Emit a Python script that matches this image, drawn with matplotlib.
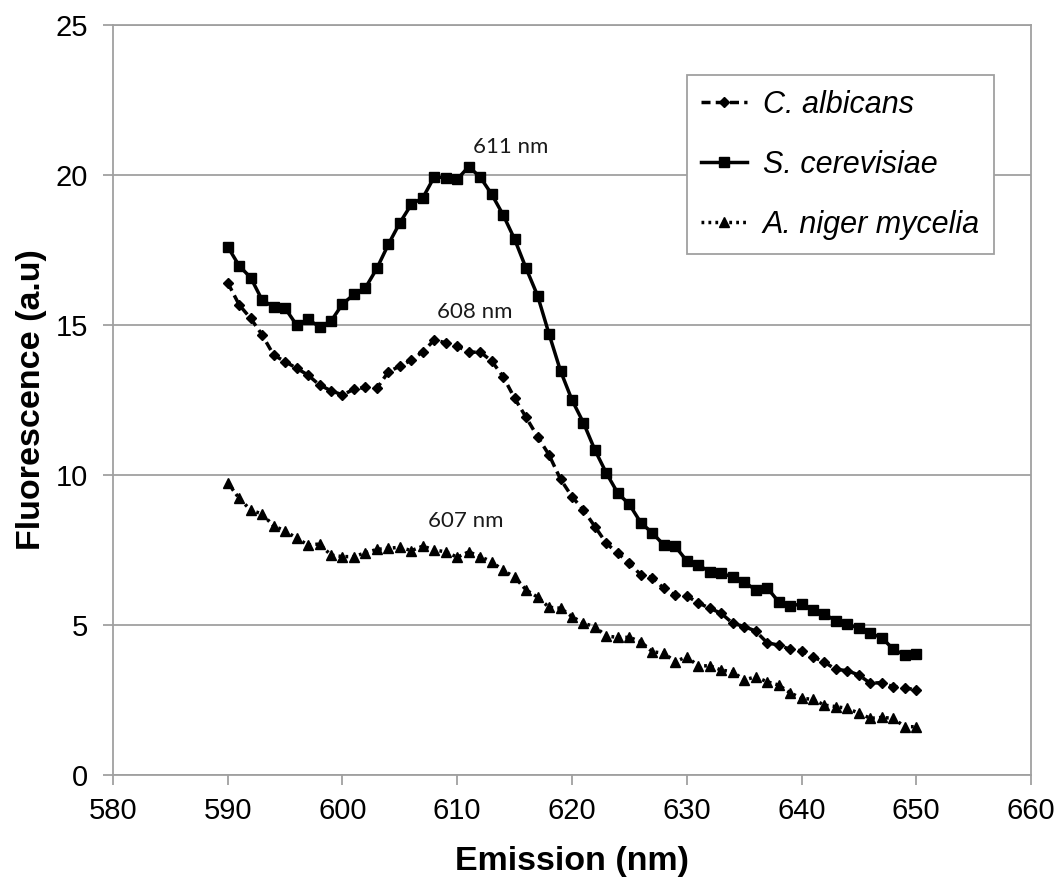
import matplotlib
matplotlib.use("Agg")
import matplotlib.pyplot as plt

plt.rcParams["font.family"] = ["Liberation Sans", "DejaVu Sans"]

# Emission wavelength (nm)
wavelength = list(range(590, 651))

c_albicans = [16.41, 15.67, 15.22, 14.67, 14.00, 13.78, 13.56, 13.33, 13.00, 12.81,
              12.67, 12.86, 12.92, 12.89, 13.44, 13.63, 13.83, 14.11, 14.50, 14.41,
              14.30, 14.09, 14.10, 13.80, 13.28, 12.56, 11.92, 11.28, 10.67, 9.86,
              9.28, 8.83, 8.28, 7.72, 7.39, 7.06, 6.67, 6.58, 6.22, 5.99,
              5.97, 5.74, 5.56, 5.39, 5.06, 4.95, 4.80, 4.41, 4.33, 4.19,
              4.14, 3.94, 3.76, 3.52, 3.48, 3.33, 3.06, 3.08, 2.94, 2.91,
              2.83]

s_cerevisiae = [17.61, 16.97, 16.58, 15.83, 15.61, 15.56, 15.00, 15.19, 14.94, 15.13,
                15.70, 16.02, 16.24, 16.89, 17.69, 18.41, 19.02, 19.24, 19.94, 19.91,
                19.86, 20.28, 19.93, 19.36, 18.67, 17.86, 16.89, 15.98, 14.70, 13.47,
                12.50, 11.74, 10.83, 10.06, 9.39, 9.02, 8.41, 8.07, 7.67, 7.62,
                7.14, 7.00, 6.78, 6.72, 6.61, 6.44, 6.17, 6.24, 5.78, 5.64,
                5.70, 5.50, 5.37, 5.13, 5.03, 4.89, 4.72, 4.58, 4.19, 4.00,
                4.02]

a_niger = [9.74, 9.22, 8.83, 8.70, 8.30, 8.14, 7.89, 7.67, 7.70, 7.33,
           7.28, 7.28, 7.41, 7.52, 7.56, 7.59, 7.48, 7.63, 7.50, 7.44,
           7.26, 7.44, 7.28, 7.11, 6.82, 6.60, 6.17, 5.93, 5.59, 5.56,
           5.28, 5.06, 4.94, 4.63, 4.59, 4.59, 4.44, 4.11, 4.06, 3.78,
           3.94, 3.64, 3.64, 3.50, 3.44, 3.17, 3.27, 3.11, 3.00, 2.74,
           2.56, 2.52, 2.33, 2.28, 2.22, 2.06, 1.89, 1.92, 1.89, 1.61,
           1.61]

peak_labels = ["611 nm", "608 nm", "607 nm"]
peak_pos = [(614.7, 20.93), (611.5, 15.43), (610.7, 8.48)]

fig = plt.figure(figsize=(10.63, 8.81), dpi=100)
ax = fig.add_axes([0.1063, 0.1203, 0.8636, 0.8513])

grey = "#a0a0a0"
ax.plot(wavelength, c_albicans, color="black", lw=2.5, linestyle=(0, (2.6, 1.5)),
        marker="D", markersize=5.2, label="C. albicans")
ax.plot(wavelength, s_cerevisiae, color="black", lw=2.5, linestyle="-",
        marker="s", markersize=7, label="S. cerevisiae")
ax.plot(wavelength, a_niger, color="black", lw=2.5, linestyle=(0, (0.8, 1.2)),
        marker="^", markersize=7, label="A. niger mycelia")

# peak annotations
for txt, (x, y) in zip(peak_labels, peak_pos):
    ax.text(x, y, txt, ha="center", va="center", fontsize=16,
            family=["Lato", "DejaVu Sans"], color="#1a1a1a")

ax.set_xlim(580, 660)
ax.set_ylim(0, 25)
ax.set_xticks(range(580, 661, 10))
ax.set_yticks(range(0, 26, 5))
ax.yaxis.grid(True, color=grey, lw=1.3)
ax.set_axisbelow(True)
for s in ax.spines.values():
    s.set_color(grey)
    s.set_linewidth(1.3)
ax.tick_params(axis="both", colors=grey, labelcolor="black", labelsize=21, width=1.3)
ax.tick_params(axis="x", length=7, direction="out", pad=9)
ax.tick_params(axis="y", length=7, direction="out", pad=11)

ax.set_xlabel("Emission (nm)", fontsize=24.5, fontweight="bold", labelpad=15)
ax.set_ylabel("Fluorescence (a.u)", fontsize=24.5, fontweight="bold", labelpad=6)

leg = ax.legend(loc="upper left", bbox_to_anchor=(0.625, 0.933), borderaxespad=0,
                fancybox=False, edgecolor=grey, framealpha=1, handlelength=1.5,
                handletextpad=0.5, labelspacing=0.98, borderpad=0.48,
                prop={"size": 22, "style": "italic"})
leg.get_frame().set_linewidth(1.3)

fig.savefig("out.png", dpi=100)
